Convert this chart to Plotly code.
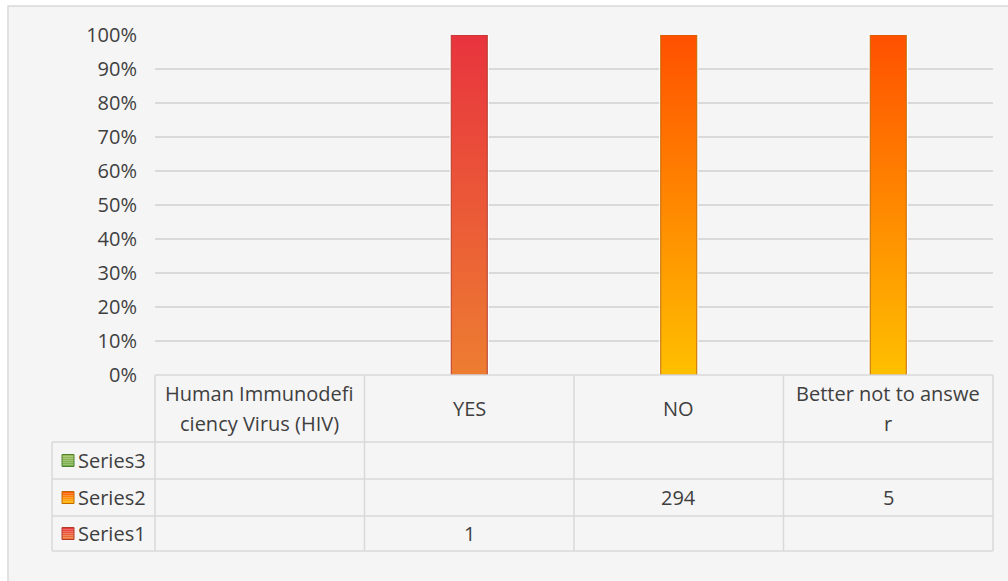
import plotly.graph_objects as go

# ---- data -------------------------------------------------------------
categories = ["Human Immunodeficiency Virus (HIV)", "YES", "NO", "Better not to answer"]
header_lines = [["Human Immunodefi", "ciency Virus (HIV)"], ["YES"], ["NO"], ["Better not to answe", "r"]]
series_names = ["Series1", "Series2", "Series3"]
series1 = [None, 1, None, None]
series2 = [None, None, 294, 5]
series3 = [None, None, None, None]
y_ticks = [0, 0.1, 0.2, 0.3, 0.4, 0.5, 0.6, 0.7, 0.8, 0.9, 1.0]

series_values = [series1, series2, series3]

# ---- styling ----------------------------------------------------------
TEXT = "#3f3f3f"
GRID = "#d9d9d9"
FONT = "Open Sans"
FS = 20
# bottom -> top gradient stops and outline colour per series
grad = {
    "Series1": (["#ed7d31", "#e8343e"], "#b43a2c"),
    "Series2": (["#ffc000", "#ff5000"], "#c06a00"),
    "Series3": (["#70ad47", "#9bbb59"], "#50802e"),
}
BAR_W = 0.172

W, H = 1008, 581
L, R, T, B = 155, 993, 35, 375


def px(x):
    return (x - L) / (R - L)


def py(y):
    return (B - y) / (B - T)


def mix(c0, c1, t):
    a = [int(c0[k:k + 2], 16) for k in (1, 3, 5)]
    b = [int(c1[k:k + 2], 16) for k in (1, 3, 5)]
    return "rgb({},{},{})".format(*[round(a[j] + (b[j] - a[j]) * t) for j in range(3)])


fig = go.Figure()

# 100% stacked columns drawn as gradient-filled polygons
n = len(categories)
totals = [sum(v[i] or 0 for v in series_values) for i in range(n)]
base = [0.0] * n
for name, vals in zip(series_names, series_values):
    stops, edge = grad[name]
    for i, v in enumerate(vals):
        if not v or not totals[i]:
            continue
        share = v / totals[i]
        x0, x1 = i - BAR_W / 2, i + BAR_W / 2
        y0, y1 = base[i], base[i] + share
        xs = [x0, x1, x1, x0, x0]
        ys = [y0, y0, y1, y1, y0]
        fig.add_trace(go.Scatter(x=xs, y=ys, mode="lines",
                                 line=dict(color="white", width=3),
                                 hoverinfo="skip", showlegend=False))
        fig.add_trace(go.Scatter(
            x=xs, y=ys, mode="lines", fill="toself",
            line=dict(color=edge, width=1),
            fillgradient=dict(type="vertical", start=y0, stop=y1,
                              colorscale=[[0, stops[0]], [1, stops[1]]]),
            name=name, showlegend=False,
            hovertemplate=f"{name}<br>{categories[i]}: {v}<extra></extra>"))
        base[i] += share

shapes = []
# chart area background and border
shapes.append(dict(type="rect", xref="paper", yref="paper", layer="below",
                   x0=px(8), x1=px(1012), y0=py(6), y1=py(585),
                   fillcolor="#f5f5f5", line=dict(color=GRID, width=1.5)))


def hline(y, xa, xb):
    shapes.append(dict(type="line", xref="paper", yref="paper",
                       x0=px(xa), x1=px(xb), y0=py(y), y1=py(y),
                       line=dict(color=GRID, width=1.5)))


def vline(x, ya, yb):
    shapes.append(dict(type="line", xref="paper", yref="paper",
                       x0=x, x1=x, y0=py(ya), y1=py(yb),
                       line=dict(color=GRID, width=1.5)))


# data table grid
ROWS = [442, 479, 516, 551]
LEG_L = 52
hline(B, L, R)
for r in ROWS:
    hline(r, LEG_L, R)
vline(px(LEG_L), ROWS[0], ROWS[-1])
for k in range(n + 1):
    vline(k / n, B, ROWS[-1])

annotations = []


def text(x, y, s, anchor="center"):
    annotations.append(dict(xref="paper", yref="paper", x=x, y=py(y), text=s,
                            showarrow=False, xanchor=anchor, yanchor="middle",
                            font=dict(family=FONT, size=FS, color=TEXT)))


# header cells
hc = (B + ROWS[0]) / 2
for i, lines in enumerate(header_lines):
    cx = (i + 0.5) / n
    if len(lines) == 1:
        text(cx, hc, lines[0])
    else:
        text(cx, hc - 15, lines[0])
        text(cx, hc + 15, lines[1])

# series rows (top row is the last series)
row_order = list(reversed(list(zip(series_names, series_values))))
STRIPS = 6
for r, (name, vals) in enumerate(row_order):
    cy = (ROWS[r] + ROWS[r + 1]) / 2
    stops, edge = grad[name]
    # legend key with a small vertical gradient
    k_top, k_bot = cy - 6, cy + 6
    for s in range(STRIPS):
        ya = k_bot - (k_bot - k_top) * s / STRIPS
        yb = k_bot - (k_bot - k_top) * (s + 1) / STRIPS
        shapes.append(dict(type="rect", xref="paper", yref="paper",
                           x0=px(62), x1=px(74), y0=py(ya), y1=py(yb),
                           fillcolor=mix(stops[0], stops[1], (s + 0.5) / STRIPS),
                           line=dict(width=0)))
    shapes.append(dict(type="rect", xref="paper", yref="paper",
                       x0=px(62), x1=px(74), y0=py(k_bot), y1=py(k_top),
                       fillcolor="rgba(0,0,0,0)", line=dict(color=edge, width=1)))
    text(px(76), cy, name, anchor="left")
    for i, v in enumerate(vals):
        if v is not None:
            text((i + 0.5) / n, cy, str(v))

fig.update_layout(
    width=W, height=H,
    margin=dict(l=L, r=W - R, t=T, b=H - B, pad=0),
    paper_bgcolor="white",
    plot_bgcolor="rgba(0,0,0,0)",
    shapes=shapes,
    annotations=annotations,
    showlegend=False,
    xaxis=dict(range=[-0.5, n - 0.5], showticklabels=False, showgrid=False,
               zeroline=False, showline=False, fixedrange=True),
    yaxis=dict(range=[0, 1], tickvals=y_ticks, tickformat=".0%",
               showgrid=True, gridcolor=GRID, gridwidth=1.5, zeroline=False,
               showline=False, ticks="outside", ticklen=13,
               tickcolor="rgba(0,0,0,0)",
               tickfont=dict(family=FONT, size=FS, color=TEXT), fixedrange=True),
)

fig.write_html("out.html")
